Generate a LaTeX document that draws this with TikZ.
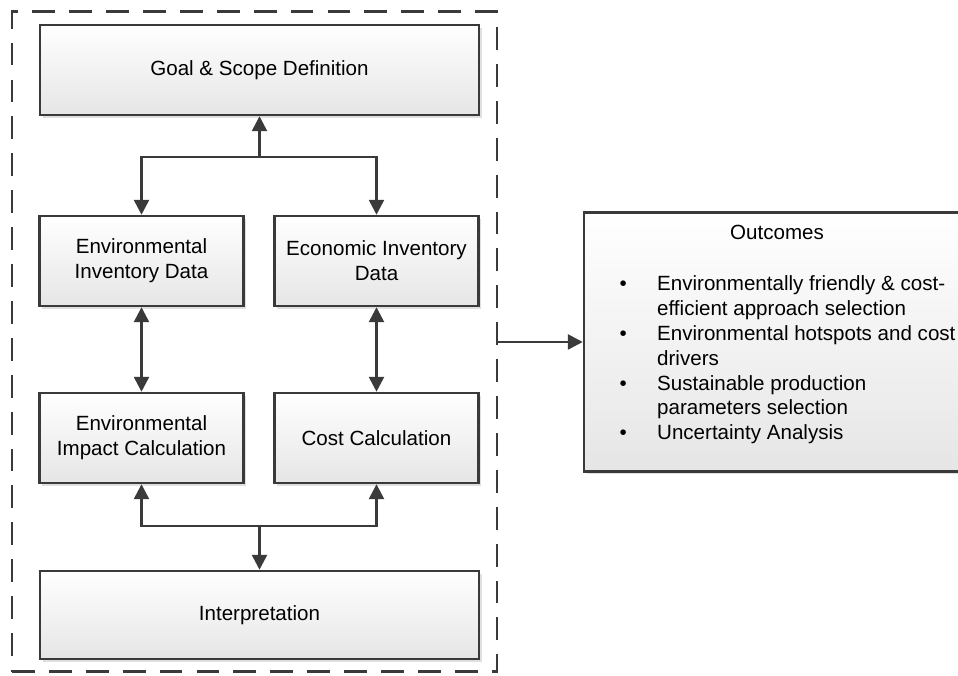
\documentclass[tikz,border=0pt]{standalone}
\usepackage{fontspec}
\setmainfont{Liberation Sans}
\usetikzlibrary{arrows.meta,shadows}
\definecolor{boxline}{HTML}{3A3A3A}

\begin{document}
\begin{tikzpicture}[>={Triangle[length=8.5pt,width=8.5pt]},font=\fontsize{11.7}{14.2}\selectfont]
  \tikzset{stage/.style={draw=boxline,line width=1.4pt,top color=white,bottom color=black!10,align=center,inner sep=2pt,
             drop shadow={opacity=0.25,shadow xshift=1.5pt,shadow yshift=-1.5pt}},
           wide/.style={stage,minimum width=8.78cm,minimum height=1.8cm},
           half/.style={stage,minimum width=4.08cm,minimum height=1.8cm},
           link/.style={draw=boxline,line width=1.5pt}}
  \useasboundingbox (0,0) rectangle (19.16,13.52);
  \node[draw=boxline,line width=1.7pt,dash pattern=on 13pt off 8pt,minimum width=9.7cm,minimum height=13.2cm] (frame) at (5.09, 6.68) {};
  \node[wide] (goal)   at (5.19, 12.12) {Goal \& Scope Definition};
  \node[half] (envinv) at (2.83, 8.3)   {Environmental\\Inventory Data};
  \node[half] (ecoinv) at (7.53, 8.3)   {Economic Inventory\\Data};
  \node[half] (envimp) at (2.83, 4.76)  {Environmental\\Impact Calculation};
  \node[half] (cost)   at (7.53, 4.76)  {Cost Calculation};
  \node[wide,minimum height=1.76cm] (interp) at (5.19, 1.22) {Interpretation};
  \node[stage,inner sep=0pt,minimum width=7.72cm,minimum height=5.18cm] (outcomes) at (15.54, 6.68) {%
    \begin{minipage}[c][5.18cm][t]{7.72cm}
      \vspace*{0.25cm}
      {\centering Outcomes\par}
      \vspace{\baselineskip}
      \vspace{0.13cm}
      \begin{tabular}{@{\hspace{0.71cm}}c@{\hspace{0.61cm}}l@{}}
        \textbullet & Environmentally friendly \& cost-\\
                    & efficient approach selection\\
        \textbullet & Environmental hotspots and cost\\
                    & drivers\\
        \textbullet & Sustainable production\\
                    & parameters selection\\
        \textbullet & Uncertainty Analysis
      \end{tabular}
    \end{minipage}};
  \coordinate (topfork) at (5.19, 10.38);
  \coordinate (botfork) at (5.19, 3.0);
  \path[link,->] (topfork) -- (goal);
  \path[link,->] (topfork) -| (envinv);
  \path[link,->] (topfork) -| (ecoinv);
  \path[link,<->] (envinv) -- (envimp);
  \path[link,<->] (ecoinv) -- (cost);
  \path[link,->] (botfork) -| (envimp);
  \path[link,->] (botfork) -| (cost);
  \path[link,->] (botfork) -- (interp);
  \path[link,->] (frame) -- (outcomes);
\end{tikzpicture}
\end{document}
